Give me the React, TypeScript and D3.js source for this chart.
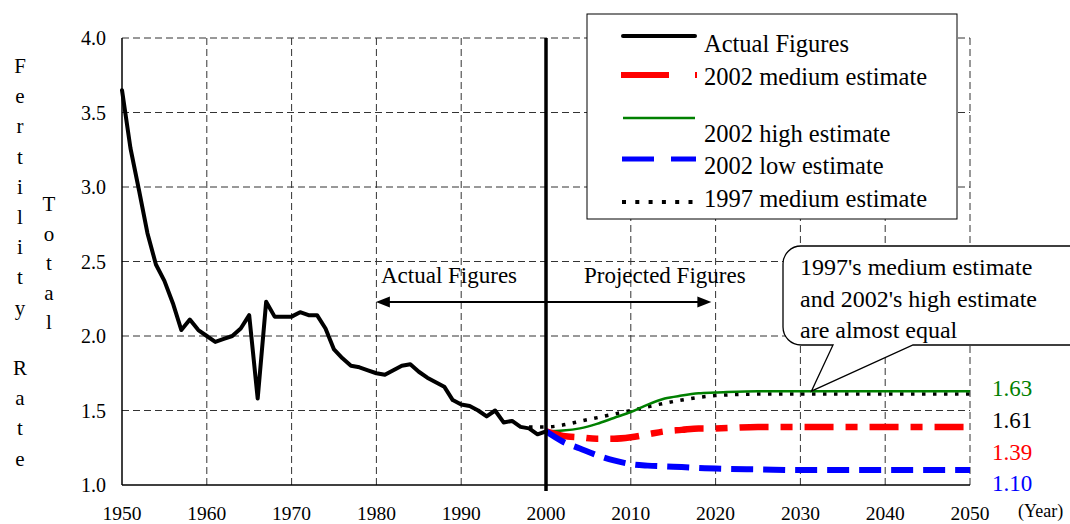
import React from 'react';
import * as d3 from 'd3';

// ---- data ----
const actualStartYear = 1950;
const actualValues = [
  3.65, 3.26, 2.98, 2.69, 2.48, 2.37, 2.22, 2.04, 2.11, 2.04,
  2.0, 1.96, 1.98, 2.0, 2.05, 2.14, 1.58, 2.23, 2.13, 2.13,
  2.13, 2.16, 2.14, 2.14, 2.05, 1.91, 1.85, 1.8, 1.79, 1.77,
  1.75, 1.74, 1.77, 1.8, 1.81, 1.76, 1.72, 1.69, 1.66, 1.57,
  1.54, 1.53, 1.5, 1.46, 1.5, 1.42, 1.43, 1.39, 1.38, 1.34,
  1.36,
];

const projYears = [2000, 2002, 2004, 2006, 2008, 2010, 2012, 2014, 2016, 2018, 2020, 2025, 2030, 2040, 2050];
const medium2002 = [1.36, 1.33, 1.32, 1.31, 1.31, 1.32, 1.34, 1.36, 1.37, 1.38, 1.38, 1.39, 1.39, 1.39, 1.39];
const high2002 = [1.36, 1.365, 1.38, 1.41, 1.45, 1.49, 1.54, 1.58, 1.6, 1.615, 1.62, 1.63, 1.63, 1.63, 1.63];
const low2002 = [1.36, 1.29, 1.245, 1.2, 1.165, 1.14, 1.13, 1.125, 1.12, 1.115, 1.11, 1.105, 1.1, 1.1, 1.1];

const medium1997Years = [1998, 2000, 2005, 2010, 2015, 2020, 2025, 2030, 2040, 2050];
const medium1997 = [1.39, 1.39, 1.44, 1.5, 1.56, 1.6, 1.61, 1.61, 1.61, 1.61];

const yTicks = [1.0, 1.5, 2.0, 2.5, 3.0, 3.5, 4.0];
const xTicks = [1950, 1960, 1970, 1980, 1990, 2000, 2010, 2020, 2030, 2040, 2050];

const legendLabels = ['Actual Figures', '2002 medium estimate', '2002 high estimate', '2002 low estimate', '1997 medium estimate'];
const endLabels = ['1.63', '1.61', '1.39', '1.10'];
const calloutLines = ["1997's medium estimate", "and 2002's high estimate", 'are almost equal'];

const FONT = '"Liberation Serif", "Times New Roman", "DejaVu Serif", serif';
const GREEN = '#008000';
const RED = '#ff0000';
const BLUE = '#0000ff';

const T = (props: any) => <text {...props} style={{ fontFamily: FONT }} />;

export default function App() {
  const W = 1070;
  const H = 524;
  const x = d3.scaleLinear().domain([1950, 2050]).range([122, 970]);
  const y = d3.scaleLinear().domain([1, 4]).range([485, 38]);

  const actualData: [number, number][] = actualValues.map((v, i) => [actualStartYear + i, v]);
  const lineLin = d3.line<[number, number]>().x(d => x(d[0])).y(d => y(d[1]));
  const lineSmooth = d3
    .line<[number, number]>()
    .x(d => x(d[0]))
    .y(d => y(d[1]))
    .curve(d3.curveMonotoneX);

  const pair = (ys: number[], vs: number[]) => ys.map((yr, i) => [yr, vs[i]] as [number, number]);

  const gridDash = '7 4';
  const gridColor = '#333';

  const legendStyles = [
    { color: '#000', width: 4, dash: undefined as string | undefined, cap: 'round' as const, x1: 623, x2: 695 },
    { color: RED, width: 6, dash: '48 26', cap: 'butt' as const, x1: 621, x2: 697 },
    { color: GREEN, width: 2.5, dash: undefined, cap: 'butt' as const, x1: 623, x2: 695 },
    { color: BLUE, width: 5, dash: '32 17', cap: 'butt' as const, x1: 622, x2: 696 },
    { color: '#000', width: 4, dash: '4 9.3', cap: 'butt' as const, x1: 622, x2: 696 },
  ];
  const legendLineY = [36, 75, 118, 159, 202];
  const legendTextY = [52, 85, 142, 174, 207];

  const x2000 = x(2000);
  const arrowY = 302;
  const leftTip = x(1980) - 0.5;
  const rightTip = x(2019.5);

  // callout geometry
  const cx0 = 783;
  const cy0 = 246;
  const cy1 = 345;
  const cr = 18;
  const tipX = x(2031.3);
  const tipY = y(1.63);
  const calloutPath = `M ${cx0 + cr} ${cy0} H 1100 V ${cy1} H 913 L ${tipX} ${tipY} L 833 ${cy1} H ${cx0 + cr} A ${cr} ${cr} 0 0 1 ${cx0} ${cy1 - cr} V ${cy0 + cr} A ${cr} ${cr} 0 0 1 ${cx0 + cr} ${cy0} Z`;

  const fertility = 'Fertility Rate'.split('');
  const total = 'Total'.split('');

  const endColors = [GREEN, '#000', RED, BLUE];
  const endY = [396, 428, 460, 491];

  return (
    <svg
      width={W}
      height={H}
      viewBox={`0 0 ${W} ${H}`}
      style={{ position: 'absolute', left: 0, top: 0, display: 'block', background: '#fff', fontFamily: FONT }}
    >
      <rect x={0} y={0} width={W} height={H} fill="#fff" />

      {/* gridlines */}
      {yTicks.filter(t => t > 1).map(t => (
        <line key={'gy' + t} x1={x(1950)} x2={x(2050)} y1={y(t)} y2={y(t)} stroke={gridColor} strokeWidth={1} strokeDasharray={gridDash} />
      ))}
      {xTicks.filter(t => t > 1950).map(t => (
        <line key={'gx' + t} x1={x(t)} x2={x(t)} y1={y(4)} y2={y(1)} stroke={gridColor} strokeWidth={1} strokeDasharray={gridDash} />
      ))}

      {/* axes */}
      <line x1={x(1950)} x2={x(1950)} y1={y(4)} y2={y(1)} stroke="#000" strokeWidth={1.5} />
      <line x1={x(1950)} x2={x(2050)} y1={y(1)} y2={y(1)} stroke="#000" strokeWidth={1.5} />

      {/* y tick labels */}
      {yTicks.map(t => (
        <T key={'yl' + t} x={106} y={y(t) + 7} fontSize={20} textAnchor="end" fill="#000">
          {t.toFixed(1)}
        </T>
      ))}
      {/* x tick labels */}
      {xTicks.map(t => (
        <T key={'xl' + t} x={x(t)} y={519.5} fontSize={19.5} textAnchor="middle" fill="#000">
          {t}
        </T>
      ))}
      <T x={1018} y={517} fontSize={18} fill="#000">(Year)</T>

      {/* y axis title */}
      <T x={20} y={73} fontSize={21} textAnchor="middle" fill="#000">
        {fertility.map((c, i) => (
          <tspan key={'f' + i} x={20} y={73 + i * 30.2}>{c === ' ' ? '\u00a0' : c}</tspan>
        ))}
      </T>
      <T x={49} y={211} fontSize={21} textAnchor="middle" fill="#000">
        {total.map((c, i) => (
          <tspan key={'t' + i} x={49} y={211 + i * 29.5}>{c}</tspan>
        ))}
      </T>

      {/* legend */}
      <rect x={587} y={14} width={370} height={205} fill="#fff" stroke="#000" strokeWidth={1} />
      {legendLabels.map((lab, i) => {
        const s = legendStyles[i];
        return (
          <g key={'lg' + i}>
            <line x1={s.x1} x2={s.x2} y1={legendLineY[i]} y2={legendLineY[i]} stroke={s.color} strokeWidth={s.width} strokeDasharray={s.dash} strokeLinecap={s.cap} />
            <T x={704} y={legendTextY[i]} fontSize={24.5} fill="#000">{lab}</T>
          </g>
        );
      })}

      {/* projection lines */}
      <path d={lineSmooth(pair(medium1997Years, medium1997)) || ''} fill="none" stroke="#000" strokeWidth={3.5} strokeDasharray="3.5 7.5" />
      <path d={lineSmooth(pair(projYears, high2002)) || ''} fill="none" stroke={GREEN} strokeWidth={2.5} />
      <path d={lineSmooth(pair(projYears, medium2002)) || ''} fill="none" stroke={RED} strokeWidth={6.5} strokeDasharray="29 12 12 12" />
      <path d={lineSmooth(pair(projYears, low2002)) || ''} fill="none" stroke={BLUE} strokeWidth={6} strokeDasharray="22 10" />

      {/* actual line */}
      <path d={lineLin(actualData) || ''} fill="none" stroke="#000" strokeWidth={4} strokeLinejoin="round" strokeLinecap="round" />

      {/* 2000 divider */}
      <line x1={x2000} x2={x2000} y1={y(4)} y2={y(1) + 6} stroke="#000" strokeWidth={3.5} />

      {/* arrows */}
      <line x1={x2000} x2={leftTip + 10} y1={arrowY} y2={arrowY} stroke="#000" strokeWidth={2} />
      <polygon points={`${leftTip},${arrowY} ${leftTip + 14},${arrowY - 5.5} ${leftTip + 14},${arrowY + 5.5}`} fill="#000" />
      <line x1={x2000} x2={rightTip - 10} y1={arrowY} y2={arrowY} stroke="#000" strokeWidth={2} />
      <polygon points={`${rightTip},${arrowY} ${rightTip - 14},${arrowY - 5.5} ${rightTip - 14},${arrowY + 5.5}`} fill="#000" />
      <T x={381} y={283} fontSize={23} fill="#000">Actual Figures</T>
      <T x={584} y={283} fontSize={23} fill="#000">Projected Figures</T>

      {/* callout */}
      <path d={calloutPath} fill="#fff" stroke="#000" strokeWidth={1.3} strokeLinejoin="miter" />
      {calloutLines.map((l, i) => (
        <T key={'cl' + i} x={800} y={275 + i * 31.5} fontSize={24} fill="#000">{l}</T>
      ))}

      {/* end labels */}
      {endLabels.map((l, i) => (
        <T key={'el' + i} x={992} y={endY[i]} fontSize={23} fill={endColors[i]}>{l}</T>
      ))}
    </svg>
  );
}
